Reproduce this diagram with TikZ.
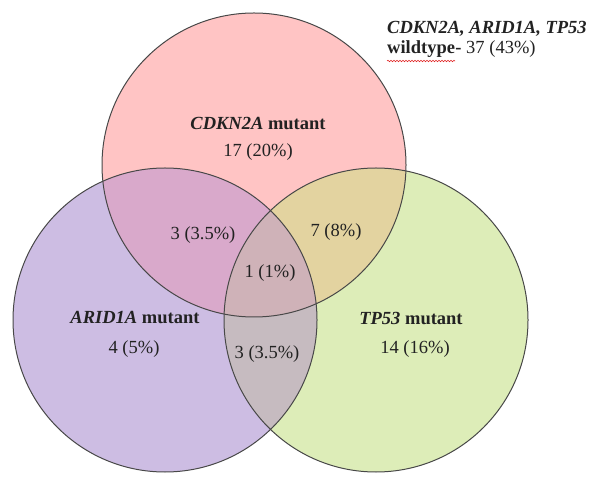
\documentclass[tikz,border=0pt]{standalone}
\usepackage{fontspec}
\setmainfont{Liberation Serif}
\usepackage{tikz}
\usetikzlibrary{positioning,decorations.pathmorphing}
\definecolor{cdkn}{HTML}{FFC4C4}
\definecolor{arid}{HTML}{CDBDE3}
\definecolor{tpf}{HTML}{DDEDB8}
\definecolor{cdknarid}{HTML}{D9A9CB}
\definecolor{cdkntp}{HTML}{E3D3A0}
\definecolor{aridtp}{HTML}{C6BBC0}
\definecolor{allthree}{HTML}{CFB2B8}
\definecolor{rim}{HTML}{484848}
\definecolor{ink}{HTML}{222222}
\definecolor{spell}{HTML}{E02020}

\begin{document}
\begin{tikzpicture}[x=1pt,y=1pt,
  venn/.style={draw=rim, line width=1pt},
  lbl/.style={font=\fontsize{18.5}{21}\selectfont, text=ink, inner sep=0pt}]
  \useasboundingbox (0,0) rectangle (601,484);

  % Set centres
  \coordinate (cT) at (254,319);
  \coordinate (cL) at (165,164);
  \coordinate (cR) at (376,164);

  % Single sets
  \fill[cdkn] (cT) circle (152pt);
  \fill[arid] (cL) circle (152pt);
  \fill[tpf] (cR) circle (152pt);

  % Pairwise overlaps
  \begin{scope}
    \clip (cT) circle (152pt);
    \fill[cdknarid] (cL) circle (152pt);
    \fill[cdkntp] (cR) circle (152pt);
  \end{scope}
  \begin{scope}
    \clip (cL) circle (152pt);
    \fill[aridtp] (cR) circle (152pt);
  \end{scope}

  % All three
  \begin{scope}
    \clip (cT) circle (152pt);
    \clip (cL) circle (152pt);
    \fill[allthree] (cR) circle (152pt);
  \end{scope}

  % Outlines
  \draw[venn] (cT) circle (152pt);
  \draw[venn] (cL) circle (152pt);
  \draw[venn] (cR) circle (152pt);

  % Region labels
  \node[lbl] (cdknName) at (258,361) {\textbf{\textit{CDKN2A} mutant}};
  \node[lbl] (cdknOnly) at (258,332) {17 (20\%)};
  \node[lbl] (cdknArid) at (203,249) {3 (3.5\%)};
  \node[lbl] (cdknTp) at (336,252) {7 (8\%)};
  \node[lbl] (allSets) at (270,211) {1 (1\%)};
  \node[lbl] (aridName) at (135,166) {\textbf{\textit{ARID1A} mutant}};
  \node[lbl] (aridOnly) at (134,135) {4 (5\%)};
  \node[lbl] (aridTp) at (267,130) {3 (3.5\%)};
  \node[lbl] (tpName) at (411,166) {\textbf{\textit{TP53} mutant}};
  \node[lbl] (tpOnly) at (415,135) {14 (16\%)};

  % Wildtype count
  \node[lbl, anchor=base west] (hdrGenes) at (387,450)
    {\textbf{\textit{CDKN2A, ARID1A, TP53}}};
  \node[lbl, anchor=base west] (hdrWt) at (387,430) {\textbf{wildtype}};
  \node[lbl, anchor=base west] (hdrCount) at (hdrWt.base east)
    {\textbf{-} 37 (43\%)};
  \draw[spell, line width=0.6pt, decorate,
    decoration={snake, amplitude=0.7pt, segment length=3pt}]
    ([yshift=-7pt]hdrWt.base west) -- ([yshift=-7pt]hdrWt.base east);
\end{tikzpicture}
\end{document}
